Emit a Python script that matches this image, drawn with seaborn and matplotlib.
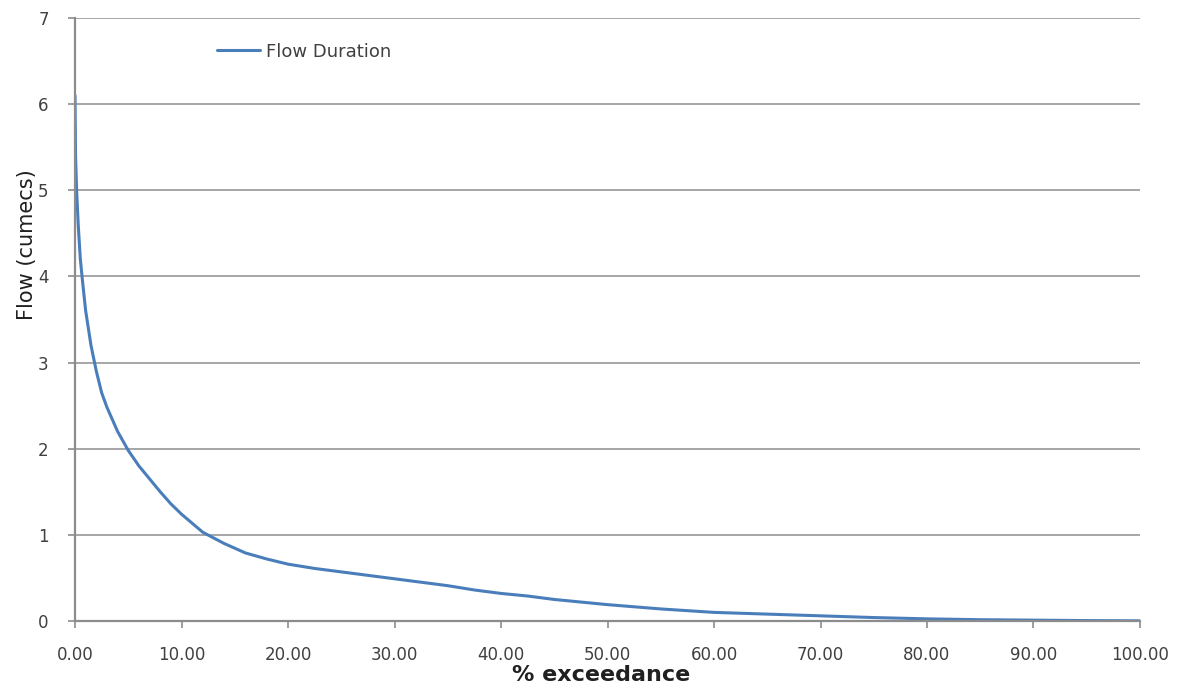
import pandas as pd
import seaborn as sns
import matplotlib
import matplotlib.pyplot as plt

matplotlib.use('Agg')

# flow duration curve
exceedance = [0, 0.05, 0.15, 0.3, 0.5, 0.7, 1.0, 1.5, 2.0, 2.5, 3, 4, 5, 6, 7, 8, 9,
              10, 12, 14, 16, 18, 20, 22.5, 25, 27.5, 30, 32.5, 35, 37.5, 40, 42.5,
              45, 47.5, 50, 55, 60, 65, 70, 75, 80, 85, 90, 95, 100]
flow = [6.1, 5.4, 5.0, 4.6, 4.2, 3.95, 3.6, 3.2, 2.9, 2.65, 2.48, 2.2, 1.98, 1.8, 1.65,
        1.5, 1.36, 1.24, 1.03, 0.9, 0.79, 0.72, 0.66, 0.61, 0.57, 0.53, 0.49, 0.45,
        0.41, 0.36, 0.32, 0.29, 0.25, 0.22, 0.19, 0.14, 0.1, 0.08, 0.06, 0.04, 0.025,
        0.015, 0.01, 0.005, 0.002]
x_ticks = [0, 10, 20, 30, 40, 50, 60, 70, 80, 90, 100]
y_ticks = [0, 1, 2, 3, 4, 5, 6, 7]

df = pd.DataFrame({'exceedance': exceedance, 'flow': flow})

sns.set_theme(style='white')
plt.rcParams['font.family'] = ['DejaVu Sans']

fig = plt.figure(figsize=(11.87, 6.90), dpi=100)
ax = fig.add_axes([0.0632, 0.1, 0.8972, 0.8739])

sns.lineplot(data=df, x='exceedance', y='flow', ax=ax, color='#4a7ebb',
             linewidth=2.2, label='Flow Duration')

ax.set_xlim(0, 100)
ax.set_ylim(0, 7)
ax.set_xticks(x_ticks)
ax.set_xticklabels([f'{v:.2f}' for v in x_ticks])
ax.set_yticks(y_ticks)
ax.yaxis.grid(True, color='#a6a6a6', linewidth=1.4)
ax.set_axisbelow(True)

for side in ['top', 'right']:
    ax.spines[side].set_visible(False)
for side in ['left', 'bottom']:
    ax.spines[side].set_color('#8c8c8c')
    ax.spines[side].set_linewidth(1.6)

ax.tick_params(axis='both', which='major', bottom=True, left=True, length=5,
               width=1.2, color='#8c8c8c', labelsize=12, labelcolor='#404040')
ax.tick_params(axis='x', pad=13)
ax.tick_params(axis='y', pad=14)

ax.set_xlabel('% exceedance', fontsize=16, fontweight='bold', color='#202020')
ax.xaxis.set_label_coords(0.494, -0.0725)
ax.set_ylabel('Flow (cumecs)', fontsize=15, color='#202020')
ax.yaxis.set_label_coords(-0.036, 0.624)

ax.legend(loc='center left', bbox_to_anchor=(0.118, 0.944), frameon=False,
          fontsize=13, handlelength=2.4, handletextpad=0.3, labelcolor='#404040')

fig.savefig('out.png', dpi=100)
plt.close(fig)
